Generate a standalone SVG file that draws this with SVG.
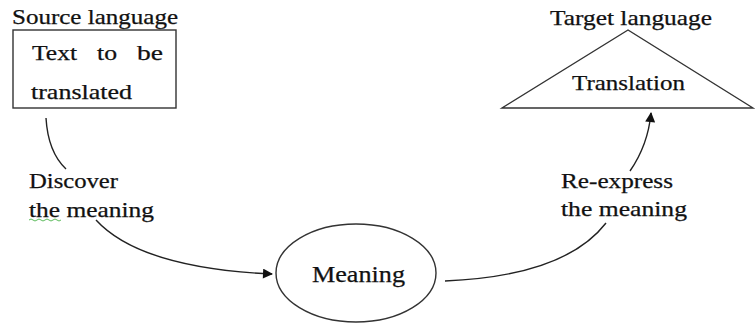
<svg xmlns="http://www.w3.org/2000/svg" width="755" height="327" viewBox="0 0 755 327">
<style>
text{font-family:"Liberation Serif","Times New Roman",serif;font-size:21px;fill:#111;stroke:#111;stroke-width:0.25}
.big{font-size:23px}
.shape{fill:#fff;stroke:#333;stroke-width:1.4}
.edge{fill:none;stroke:#222;stroke-width:1.4}
</style>
<defs>
<marker id="arr" viewBox="0 0 10 10" refX="9" refY="5" markerWidth="12" markerHeight="10" markerUnits="userSpaceOnUse" orient="auto">
<path d="M0,0 L10,5 L0,10 Z" fill="#111"/>
</marker>
</defs>
<rect width="755" height="327" fill="#fff"/>
<g id="source">
<text x="12" y="24" textLength="166" lengthAdjust="spacingAndGlyphs">Source language</text>
<rect class="shape" x="13" y="30" width="163" height="78"/>
<text x="32" y="60" textLength="45" lengthAdjust="spacingAndGlyphs">Text</text>
<text x="97" y="60" textLength="20" lengthAdjust="spacingAndGlyphs">to</text>
<text x="137" y="60" textLength="26" lengthAdjust="spacingAndGlyphs">be</text>
<text x="31" y="99" textLength="101" lengthAdjust="spacingAndGlyphs">translated</text>
</g>
<g id="target">
<text x="550" y="25" textLength="162" lengthAdjust="spacingAndGlyphs">Target language</text>
<polygon class="shape" points="628,30 502,108 753,108"/>
<text x="572" y="90" textLength="113" lengthAdjust="spacingAndGlyphs">Translation</text>
</g>
<g id="meaning">
<ellipse class="shape" cx="356" cy="273" rx="80" ry="49"/>
<text class="big" x="312" y="282" textLength="93" lengthAdjust="spacingAndGlyphs">Meaning</text>
</g>
<g id="connectors">
<path class="edge" d="M46,118 Q48,152 66,169"/>
<path class="edge" d="M96,220 Q140,268 272,274" marker-end="url(#arr)"/>
<path class="edge" d="M445,281 Q565,276 606,223"/>
<path class="edge" d="M630,171 Q648,145 651,113" marker-end="url(#arr)"/>
</g>
<g id="labels">
<text x="29" y="188" textLength="89" lengthAdjust="spacingAndGlyphs">Discover</text>
<text x="29" y="217" textLength="125" lengthAdjust="spacingAndGlyphs">the meaning</text>
<path d="M29,220 q2,-2 4,0 t4,0 t4,0 t4,0 t4,0 t4,0 t4,0 t4,0" fill="none" stroke="#3a3" stroke-width="0.8"/>
<text x="561" y="188" textLength="112" lengthAdjust="spacingAndGlyphs">Re-express</text>
<text x="561" y="216" textLength="126" lengthAdjust="spacingAndGlyphs">the meaning</text>
</g>
</svg>
